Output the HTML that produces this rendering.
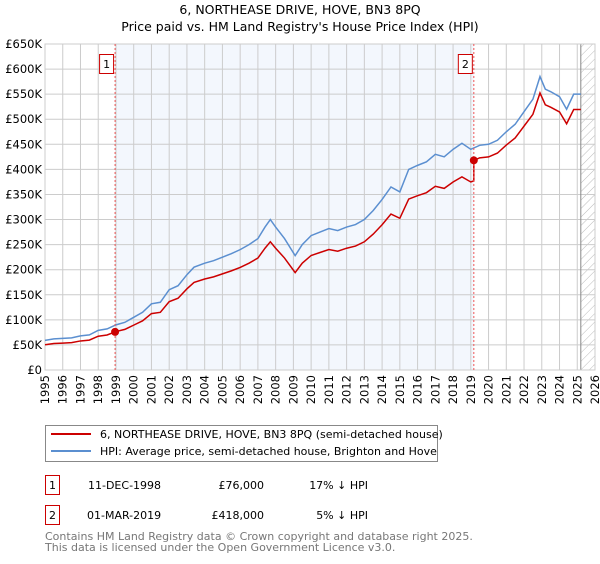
<!DOCTYPE html>
<html><head><meta charset="utf-8"><style>
body{margin:0;background:#fff;width:600px;height:560px;overflow:hidden;font-family:"DejaVu Sans","Liberation Sans",sans-serif;}
svg text{font-family:"DejaVu Sans","Liberation Sans",sans-serif;}
</style></head><body>
<svg id="chart" width="600" height="560" xmlns="http://www.w3.org/2000/svg">
<defs><pattern id="hatch" patternUnits="userSpaceOnUse" width="6" height="6" patternTransform="rotate(45)"><line x1="0" y1="0" x2="0" y2="6" stroke="#bbb" stroke-width="1"/></pattern></defs>
<text x="300" y="14" text-anchor="middle" font-size="12.5">6, NORTHEASE DRIVE, HOVE, BN3 8PQ</text>
<text x="300" y="31" text-anchor="middle" font-size="12.5">Price paid vs. HM Land Registry's House Price Index (HPI)</text>
<g id="plot"></g>
<rect x="45.5" y="425.5" width="392" height="36" fill="#fff" stroke="#888"/>
<line x1="51" y1="434" x2="91" y2="434" stroke="#cc0000" stroke-width="2"/>
<text x="100" y="438" font-size="11">6, NORTHEASE DRIVE, HOVE, BN3 8PQ (semi-detached house)</text>
<line x1="51" y1="451" x2="91" y2="451" stroke="#5b8fd0" stroke-width="2"/>
<text x="100" y="455" font-size="11">HPI: Average price, semi-detached house, Brighton and Hove</text>
<g font-size="11">
<rect x="45.5" y="475.5" width="14" height="19" fill="#fff" stroke="#cc0000"/><text x="52.5" y="489" text-anchor="middle">1</text>
<text x="88" y="489">11-DEC-1998</text><text x="264" y="489" text-anchor="end">£76,000</text><text x="368" y="489" text-anchor="end">17% ↓ HPI</text></g>
<g font-size="11">
<rect x="45.5" y="505.5" width="14" height="19" fill="#fff" stroke="#cc0000"/><text x="52.5" y="519" text-anchor="middle">2</text>
<text x="87" y="519">01-MAR-2019</text><text x="264" y="519" text-anchor="end">£418,000</text><text x="368" y="519" text-anchor="end">5% ↓ HPI</text></g>
<text x="45" y="540" font-size="11" fill="#777">Contains HM Land Registry data © Crown copyright and database right 2025.</text>
<text x="45" y="551" font-size="11" fill="#777">This data is licensed under the Open Government Licence v3.0.</text>
</svg>
<script>
const hpiYears=[1995,1995.5,1996,1996.5,1997,1997.5,1998,1998.5,1999,1999.5,2000,2000.5,2001,2001.5,2002,2002.5,2003,2003.4,2004,2004.5,2005,2005.5,2006,2006.5,2007,2007.4,2007.7,2008,2008.5,2009.1,2009.5,2010,2010.5,2011,2011.5,2012,2012.5,2013,2013.5,2014,2014.5,2015,2015.5,2016,2016.5,2017,2017.5,2018,2018.5,2019,2019.5,2020,2020.5,2021,2021.5,2022,2022.5,2022.9,2023.2,2023.5,2024,2024.4,2024.8,2025.2];
const hpiValues=[59,62,63,64,68,70,79,82,90,95,105,115,132,135,160,168,190,205,213,218,225,232,240,250,262,285,300,285,262,228,250,268,275,282,278,285,290,300,318,340,365,355,400,408,415,430,425,440,452,440,448,450,458,475,490,515,540,585,560,555,545,520,550,550];
const saleYears=[1998.95,2019.17];
const salePrices=[76,418];
const yTicks=[0,50,100,150,200,250,300,350,400,450,500,550,600,650];
const xTicks=[1995,1996,1997,1998,1999,2000,2001,2002,2003,2004,2005,2006,2007,2008,2009,2010,2011,2012,2013,2014,2015,2016,2017,2018,2019,2020,2021,2022,2023,2024,2025,2026];
const X0=45,X1=595,Y0=370,Y1=44,NS="http://www.w3.org/2000/svg";
const xs=y=>X0+(y-1995)/(2026-1995)*(X1-X0);
const ys=v=>Y0-v/650*(Y0-Y1);
const g=document.getElementById('plot');
function mk(t,a){const e=document.createElementNS(NS,t);for(const k in a)e.setAttribute(k,a[k]);g.appendChild(e);return e;}
function hpiAt(t){for(let i=0;i<hpiYears.length-1;i++){if(t<=hpiYears[i+1]){const f=(t-hpiYears[i])/(hpiYears[i+1]-hpiYears[i]);return hpiValues[i]+f*(hpiValues[i+1]-hpiValues[i]);}}return hpiValues[hpiValues.length-1];}
let e=mk('rect',{x:xs(saleYears[0]),y:Y1,width:xs(saleYears[1])-xs(saleYears[0]),height:Y0-Y1,fill:'#eef3fc',opacity:0.7});

e=mk('rect',{x:xs(2025.2),y:Y1,width:X1-xs(2025.2),height:Y0-Y1,fill:'url(#hatch)'});

yTicks.forEach(v=>{let l=mk('line',{x1:X0,x2:X1,y1:ys(v),y2:ys(v),stroke:'#ccc'});

let t=mk('text',{x:X0-3,y:ys(v)+4,'text-anchor':'end','font-size':'11.5'});t.textContent=v===0?'£0':'£'+v+'K';
});
xTicks.forEach(y=>{let l=mk('line',{x1:xs(y),x2:xs(y),y1:Y1,y2:Y0,stroke:'#ccc'});

let t=mk('text',{transform:`translate(${xs(y)+4},${Y0+5}) rotate(-90)`,'text-anchor':'end','font-size':'11.5'});t.textContent=y;
});
e=mk('line',{x1:xs(2025.2),x2:xs(2025.2),y1:Y1,y2:Y0,stroke:'#888'});

e=mk('rect',{x:X0,y:Y1,width:X1-X0,height:Y0-Y1,fill:'none',stroke:'#ccc'});

e=mk('path',{d:hpiYears.map((y,i)=>(i?'L':'M')+xs(y)+','+ys(hpiValues[i])).join(''),fill:'none',stroke:'#5b8fd0','stroke-width':1.5});

// property line: indexed from each sale by HPI
let pts=[];
hpiYears.forEach((y,i)=>{const k=y<saleYears[1]?0:1;if(i>0&&hpiYears[i-1]<saleYears[1]&&y>=saleYears[1]){pts.push([saleYears[1],salePrices[0]*hpiAt(saleYears[1])/hpiAt(saleYears[0])]);pts.push([saleYears[1],salePrices[1]]);}
pts.push([y,salePrices[k]*hpiValues[i]/hpiAt(saleYears[k])]);});
e=mk('path',{d:pts.map((p,i)=>(i?'L':'M')+xs(p[0])+','+ys(p[1])).join(''),fill:'none',stroke:'#cc0000','stroke-width':1.5});

saleYears.forEach((y,i)=>{let l=mk('line',{x1:xs(y),x2:xs(y),y1:Y1,y2:Y0,stroke:'#e55','stroke-dasharray':'2,2'});

let c=mk('circle',{cx:xs(y),cy:ys(salePrices[i]),r:4,fill:'#cc0000'});

let r=mk('rect',{x:xs(y)-15.5,y:54.5,width:14,height:19,fill:'#fff',stroke:'#cc0000'});

let t=mk('text',{x:xs(y)-8.5,y:68,'text-anchor':'middle','font-size':'11'});t.textContent=i+1;
});
</script>
</body></html>
